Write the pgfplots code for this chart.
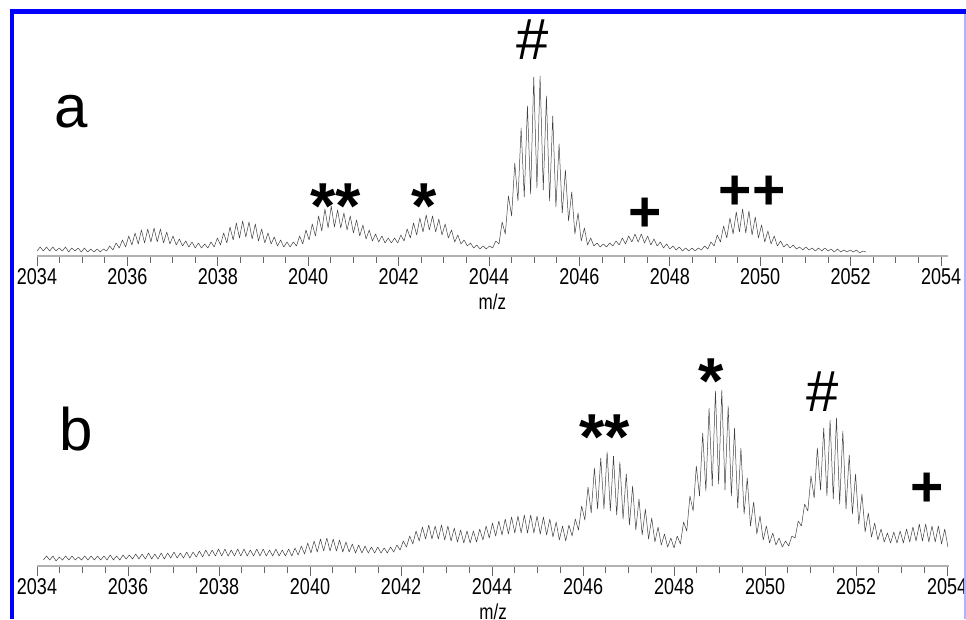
\documentclass[border=0pt]{standalone}
\usepackage{fontspec}
\setmainfont{Liberation Sans}
\usepackage{pgfplots}
\pgfplotsset{compat=1.18}
\usepackage{graphicx}
\newcommand{\tl}[1]{\scalebox{1}[1.27]{#1}}

\pgfplotsset{
  specaxis/.style={
    scale only axis,
    axis x line*=bottom,
    axis y line=none,
    ymin=0, ymax=240, height=240pt,
    xmin=2034,
    xtick={2034,2036,2038,2040,2042,2044,2046,2048,2050,2052,2054},
    xticklabels={\tl{2034},\tl{2036},\tl{2038},\tl{2040},\tl{2042},\tl{2044},\tl{2046},\tl{2048},\tl{2050},\tl{2052},\tl{2054}},
    minor x tick num=3,
    tick align=outside,
    major tick length=10pt,
    minor tick length=7pt,
    every tick/.style={black!60, line width=0.8pt},
    every minor tick/.style={black!60, line width=0.8pt},
    axis line style={black!30, line width=1.6pt},
    xticklabel style={font=\fontsize{18}{20}\selectfont, inner sep=0pt, yshift=-2pt},
    xlabel={\tl{m/z}},
    xlabel style={font=\fontsize{17}{20}\selectfont, inner sep=0pt, yshift=-9pt},
    clip=false,
  },
  trace/.style={black!75, line width=0.5pt, line join=round},
}

\begin{document}
\begin{tikzpicture}
\path[use as bounding box] (0pt,0pt) rectangle (966pt,619pt);

% ---------------- panel a ----------------
\begin{axis}[specaxis, at={(37pt,363pt)}, anchor=south west,
  xmax=2054.15, width=910.8pt]
\addplot[trace] coordinates {
(2034.00,5)(2034.07,9)(2034.14,5)(2034.21,9)(2034.28,5)(2034.35,9)(2034.42,5)(2034.49,8)
(2034.56,5)(2034.63,9)(2034.70,4)(2034.77,8)(2034.84,5)(2034.91,8)(2034.98,4)(2035.05,8)
(2035.12,4)(2035.19,7)(2035.26,4)(2035.33,7)(2035.40,4)(2035.47,7)(2035.54,5)(2035.61,10)
(2035.68,6)(2035.75,13)(2035.82,8)(2035.89,16)(2035.96,9)(2036.03,20)(2036.10,11)(2036.17,23)
(2036.24,12)(2036.31,26)(2036.38,13)(2036.45,27)(2036.52,14)(2036.59,28)(2036.66,14)(2036.73,27)
(2036.80,13)(2036.87,24)(2036.94,12)(2037.01,20)(2037.08,11)(2037.15,17)(2037.22,10)(2037.29,15)
(2037.36,9)(2037.43,14)(2037.50,8)(2037.57,13)(2037.64,8)(2037.71,12)(2037.78,8)(2037.85,14)
(2037.92,9)(2037.99,18)(2038.06,11)(2038.13,23)(2038.20,13)(2038.27,29)(2038.34,16)(2038.41,33)
(2038.48,18)(2038.55,35)(2038.62,19)(2038.69,34)(2038.76,17)(2038.83,32)(2038.90,15)(2038.97,27)
(2039.04,13)(2039.11,23)(2039.18,12)(2039.25,19)(2039.32,10)(2039.39,16)(2039.46,9)(2039.53,14)
(2039.60,9)(2039.67,14)(2039.74,10)(2039.81,20)(2039.88,12)(2039.95,26)(2040.02,16)(2040.09,32)
(2040.16,20)(2040.23,40)(2040.30,25)(2040.37,47)(2040.44,28)(2040.51,50)(2040.58,29)(2040.65,46)
(2040.72,28)(2040.79,43)(2040.86,26)(2040.93,40)(2041.00,23)(2041.07,36)(2041.14,20)(2041.21,31)
(2041.28,17)(2041.35,26)(2041.42,15)(2041.49,22)(2041.56,14)(2041.63,20)(2041.70,13)(2041.77,18)
(2041.84,13)(2041.91,18)(2041.98,13)(2042.05,21)(2042.12,15)(2042.19,27)(2042.26,18)(2042.33,33)
(2042.40,21)(2042.47,38)(2042.54,24)(2042.61,41)(2042.68,26)(2042.75,40)(2042.82,24)(2042.89,37)
(2042.96,21)(2043.03,32)(2043.10,18)(2043.17,26)(2043.24,14)(2043.31,21)(2043.38,12)(2043.45,16)
(2043.52,10)(2043.59,13)(2043.66,8)(2043.73,11)(2043.80,7)(2043.87,10)(2043.94,7)(2044.01,10)
(2044.08,8)(2044.15,15)(2044.22,12)(2044.29,34)(2044.36,22)(2044.43,60)(2044.50,40)(2044.57,93)
(2044.64,55)(2044.71,128)(2044.78,59)(2044.85,150)(2044.92,62)(2044.99,179)(2045.06,68)(2045.13,180)
(2045.20,66)(2045.27,160)(2045.34,55)(2045.41,140)(2045.48,49)(2045.55,112)(2045.62,43)(2045.69,86)
(2045.76,35)(2045.83,64)(2045.90,22)(2045.97,43)(2046.04,15)(2046.11,28)(2046.18,11)(2046.25,18)
(2046.32,10)(2046.39,13)(2046.46,9)(2046.53,12)(2046.60,9)(2046.67,13)(2046.74,10)(2046.81,15)
(2046.88,11)(2046.95,18)(2047.02,12)(2047.09,20)(2047.16,14)(2047.23,22)(2047.30,14)(2047.37,22)
(2047.44,13)(2047.51,20)(2047.58,11)(2047.65,17)(2047.72,10)(2047.79,14)(2047.86,8)(2047.93,12)
(2048.00,7)(2048.07,10)(2048.14,6)(2048.21,9)(2048.28,5)(2048.35,8)(2048.42,5)(2048.49,8)
(2048.56,5)(2048.63,8)(2048.70,6)(2048.77,10)(2048.84,7)(2048.91,14)(2048.98,10)(2049.05,21)
(2049.12,14)(2049.19,30)(2049.26,18)(2049.33,38)(2049.40,22)(2049.47,44)(2049.54,24)(2049.61,47)
(2049.68,23)(2049.75,45)(2049.82,21)(2049.89,39)(2049.96,18)(2050.03,31)(2050.10,14)(2050.17,25)
(2050.24,12)(2050.31,20)(2050.38,10)(2050.45,15)(2050.52,9)(2050.59,12)(2050.66,8)(2050.73,11)
(2050.80,7)(2050.87,9)(2050.94,6)(2051.01,9)(2051.08,6)(2051.15,8)(2051.22,5)(2051.29,8)
(2051.36,5)(2051.43,8)(2051.50,5)(2051.57,7)(2051.64,4)(2051.71,7)(2051.78,4)(2051.85,6)
(2051.92,4)(2051.99,6)(2052.06,4)(2052.13,6)(2052.20,3)(2052.27,5)(2052.34,4)
};
\end{axis}

% ---------------- panel b ----------------
\begin{axis}[specaxis, at={(37pt,53pt)}, anchor=south west,
  xmax=2054.05, width=912.3pt]
\addplot[trace] coordinates {
(2034.14,6)(2034.21,10)(2034.28,6)(2034.35,10)(2034.42,5)(2034.49,9)(2034.56,6)(2034.63,10)
(2034.70,6)(2034.77,10)(2034.84,6)(2034.91,9)(2034.98,6)(2035.05,10)(2035.12,6)(2035.19,10)
(2035.26,6)(2035.33,10)(2035.40,6)(2035.47,10)(2035.54,6)(2035.61,11)(2035.68,6)(2035.75,10)
(2035.82,6)(2035.89,11)(2035.96,7)(2036.03,11)(2036.10,7)(2036.17,12)(2036.24,7)(2036.31,12)
(2036.38,7)(2036.45,13)(2036.52,7)(2036.59,12)(2036.66,7)(2036.73,13)(2036.80,7)(2036.87,13)
(2036.94,8)(2037.01,14)(2037.08,8)(2037.15,13)(2037.22,8)(2037.29,14)(2037.36,8)(2037.43,14)
(2037.50,9)(2037.57,15)(2037.64,9)(2037.71,16)(2037.78,10)(2037.85,16)(2037.92,10)(2037.99,17)
(2038.06,10)(2038.13,17)(2038.20,10)(2038.27,16)(2038.34,10)(2038.41,17)(2038.48,10)(2038.55,17)
(2038.62,10)(2038.69,16)(2038.76,10)(2038.83,17)(2038.90,10)(2038.97,17)(2039.04,10)(2039.11,16)
(2039.18,10)(2039.25,17)(2039.32,10)(2039.39,16)(2039.46,10)(2039.53,17)(2039.60,10)(2039.67,18)
(2039.74,11)(2039.81,20)(2039.88,12)(2039.95,23)(2040.02,13)(2040.09,25)(2040.16,14)(2040.23,27)
(2040.30,15)(2040.37,28)(2040.44,15)(2040.51,27)(2040.58,15)(2040.65,26)(2040.72,14)(2040.79,24)
(2040.86,14)(2040.93,22)(2041.00,13)(2041.07,21)(2041.14,13)(2041.21,20)(2041.28,13)(2041.35,19)
(2041.42,13)(2041.49,19)(2041.56,13)(2041.63,18)(2041.70,13)(2041.77,19)(2041.84,14)(2041.91,21)
(2041.98,16)(2042.05,25)(2042.12,19)(2042.19,30)(2042.26,22)(2042.33,35)(2042.40,25)(2042.47,39)
(2042.54,27)(2042.61,41)(2042.68,27)(2042.75,40)(2042.82,27)(2042.89,41)(2042.96,26)(2043.03,40)
(2043.10,25)(2043.17,38)(2043.24,24)(2043.31,36)(2043.38,23)(2043.45,35)(2043.52,23)(2043.59,35)
(2043.66,24)(2043.73,37)(2043.80,26)(2043.87,40)(2043.94,28)(2044.01,43)(2044.08,30)(2044.15,45)
(2044.22,31)(2044.29,47)(2044.36,32)(2044.43,49)(2044.50,33)(2044.57,50)(2044.64,33)(2044.71,51)
(2044.78,33)(2044.85,51)(2044.92,33)(2044.99,50)(2045.06,32)(2045.13,49)(2045.20,31)(2045.27,47)
(2045.34,29)(2045.41,44)(2045.48,26)(2045.55,40)(2045.62,25)(2045.69,41)(2045.76,30)(2045.83,47)
(2045.90,36)(2045.97,60)(2046.04,46)(2046.11,79)(2046.18,53)(2046.25,98)(2046.32,57)(2046.39,108)
(2046.46,57)(2046.53,114)(2046.60,55)(2046.67,110)(2046.74,51)(2046.81,104)(2046.88,47)(2046.95,92)
(2047.02,41)(2047.09,80)(2047.16,36)(2047.23,67)(2047.30,31)(2047.37,57)(2047.44,27)(2047.51,48)
(2047.58,24)(2047.65,39)(2047.72,21)(2047.79,32)(2047.86,19)(2047.93,28)(2048.00,18)(2048.07,30)
(2048.14,22)(2048.21,44)(2048.28,35)(2048.35,70)(2048.42,55)(2048.49,100)(2048.56,70)(2048.63,133)
(2048.70,75)(2048.77,158)(2048.84,80)(2048.91,175)(2048.98,82)(2049.05,176)(2049.12,76)(2049.19,160)
(2049.26,70)(2049.33,138)(2049.40,58)(2049.47,118)(2049.54,52)(2049.61,88)(2049.68,40)(2049.75,64)
(2049.82,32)(2049.89,50)(2049.96,26)(2050.03,40)(2050.10,23)(2050.17,33)(2050.24,21)(2050.31,28)
(2050.38,19)(2050.45,25)(2050.52,20)(2050.59,30)(2050.66,28)(2050.73,45)(2050.80,40)(2050.87,62)
(2050.94,55)(2051.01,90)(2051.08,68)(2051.15,118)(2051.22,76)(2051.29,138)(2051.36,70)(2051.43,146)
(2051.50,67)(2051.57,148)(2051.64,62)(2051.71,135)(2051.78,57)(2051.85,111)(2051.92,52)(2051.99,92)
(2052.06,42)(2052.13,72)(2052.20,34)(2052.27,53)(2052.34,29)(2052.41,43)(2052.48,26)(2052.55,37)
(2052.62,24)(2052.69,33)(2052.76,23)(2052.83,34)(2052.90,23)(2052.97,35)(2053.04,23)(2053.11,37)
(2053.18,24)(2053.25,39)(2053.32,25)(2053.39,42)(2053.46,25)(2053.53,42)(2053.60,24)(2053.67,40)
(2053.74,24)(2053.81,40)(2053.88,22)(2053.95,37)(2054.02,19)
};
\end{axis}

% ---------------- annotations ----------------
\node[anchor=base west, inner sep=0pt, font=\fontsize{60}{60}\selectfont] at (54.6pt,491pt) {a};
\node[anchor=base west, inner sep=0pt, font=\fontsize{60}{60}\selectfont] at (59.5pt,169pt) {b};
\node[anchor=base, inner sep=0pt, font=\fontsize{58}{58}\selectfont] at (532.5pt,559pt) {\#};
\node[anchor=base, inner sep=0pt, font=\bfseries\fontsize{65}{65}\selectfont] at (335.5pt,390.5pt) {**};
\node[anchor=base, inner sep=0pt, font=\bfseries\fontsize{65}{65}\selectfont] at (424pt,390.5pt) {*};
\node[anchor=base, inner sep=0pt, font=\bfseries\fontsize{57}{57}\selectfont] at (645pt,387.3pt) {+};
\node[anchor=base, inner sep=0pt, font=\bfseries\fontsize{57}{57}\selectfont] at (752pt,409.3pt) {++};
\node[anchor=base, inner sep=0pt, font=\bfseries\fontsize{65}{65}\selectfont] at (605pt,159.5pt) {**};
\node[anchor=base, inner sep=0pt, font=\bfseries\fontsize{65}{65}\selectfont] at (711.5pt,215.5pt) {*};
\node[anchor=base, inner sep=0pt, font=\fontsize{58}{58}\selectfont] at (823pt,207.5pt) {\#};
\node[anchor=base, inner sep=0pt, font=\bfseries\fontsize{57}{57}\selectfont] at (927.5pt,112.3pt) {+};

% ---------------- frame ----------------
\draw[blue, line width=4.5pt] (11.75pt,0pt) -- (11.75pt,607.25pt);
\draw[blue, line width=4.5pt] (9.5pt,607.25pt) -- (966pt,607.25pt);
\draw[blue!30, line width=1.5pt] (965.2pt,0pt) -- (965.2pt,605pt);
\end{tikzpicture}
\end{document}
